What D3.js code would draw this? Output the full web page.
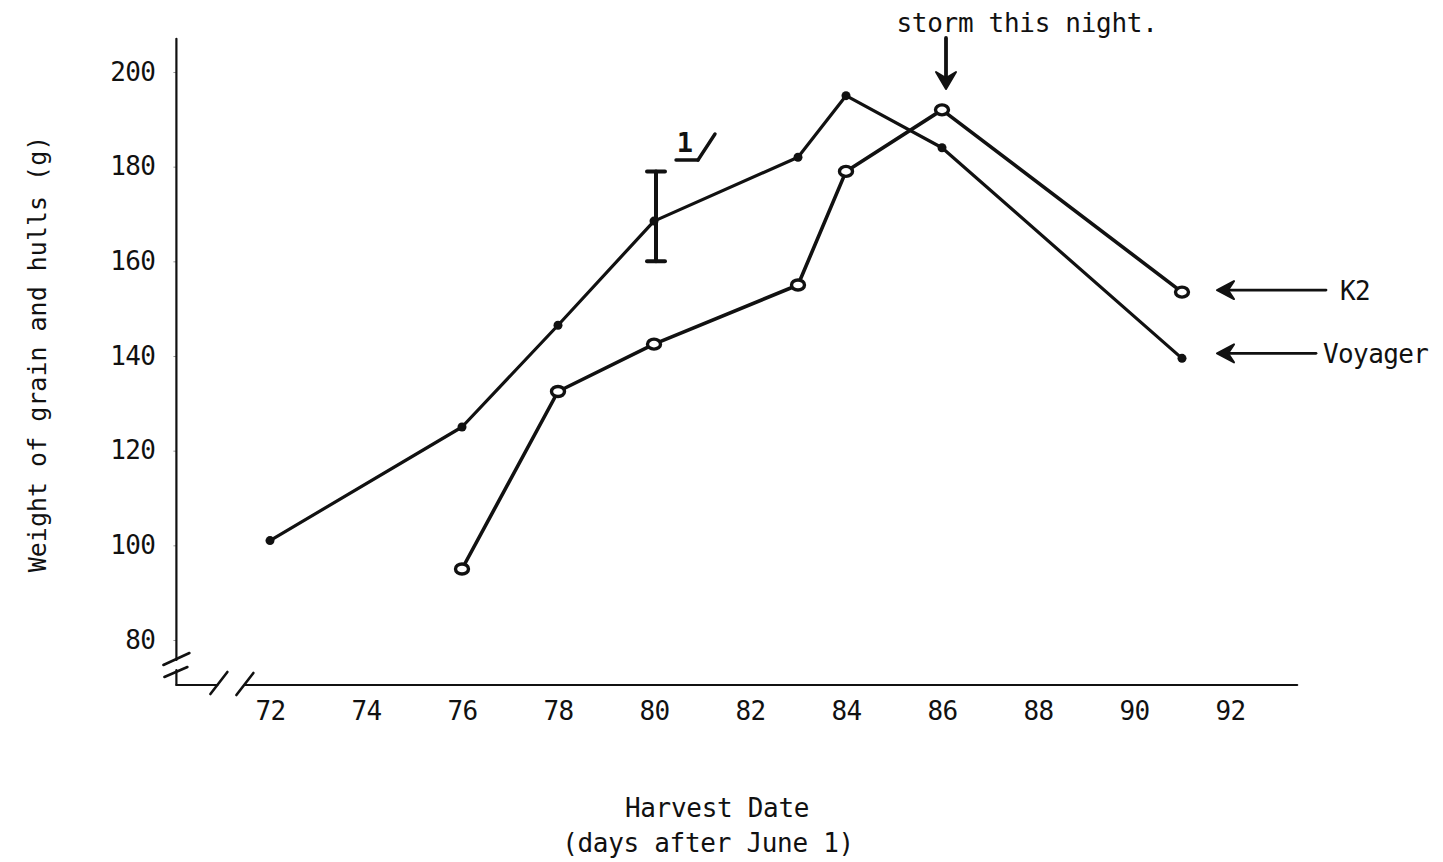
<!DOCTYPE html>
<html>
<head>
<meta charset="utf-8">
<script src="https://cdn.jsdelivr.net/npm/d3@7"></script>
<style>
  html, body { margin: 0; padding: 0; background: #fff; }
  svg { display: block; }
  text { font-family: "DejaVu Sans Mono", "Liberation Mono", monospace; fill: #111; }
</style>
</head>
<body>
<svg id="chart" width="1443" height="862"></svg>
<script>
// Harvest weight of grain and hulls for two barley cultivars
const xTicks = [72, 74, 76, 78, 80, 82, 84, 86, 88, 90, 92];
const yTicks = [80, 100, 120, 140, 160, 180, 200];

const voyagerDays   = [72, 76, 78, 80, 83, 84, 86, 91];
const voyagerWeight = [101, 125, 146.5, 168.5, 182, 195, 184, 139.5];

const k2Days   = [76, 78, 80, 83, 84, 86, 91];
const k2Weight = [95, 132.5, 142.5, 155, 179, 192, 153.5];

// LSD bar (footnote 1/) drawn at day 80
const lsdDay = 80;
const lsdRange = [160, 179];

const seriesNames = ["K2", "Voyager"];

const svg = d3.select("#chart");
const ink = "#111";

const x = d3.scaleLinear().domain([72, 92]).range([270, 1230]);
const y = d3.scaleLinear().domain([80, 200]).range([640, 72]);

const axisY = y(80) + 45;   // baseline of the broken x axis
const axisX = x(70.05);     // position of the y axis

// ---- axes ----
const gx = svg.append("g").attr("transform", `translate(0,${axisY})`)
  .call(d3.axisBottom(x).tickValues(xTicks).tickSize(0).tickPadding(17));
gx.select(".domain").remove();
gx.selectAll("text").attr("font-size", 26).attr("letter-spacing", -0.6);

const gy = svg.append("g").attr("transform", `translate(${axisX},0)`)
  .call(d3.axisLeft(y).tickValues(yTicks).tickSize(3).tickPadding(18));
gy.select(".domain").remove();
gy.selectAll("line").attr("stroke", "#999").attr("stroke-width", 1);
gy.selectAll("text").attr("font-size", 26).attr("letter-spacing", -0.6);

function seg(x1, y1, x2, y2, w) {
  return svg.append("line").attr("x1", x1).attr("y1", y1).attr("x2", x2).attr("y2", y2)
    .attr("stroke", ink).attr("stroke-width", w || 2.2).attr("stroke-linecap", "round");
}

// y axis line with break near the bottom
seg(axisX, y(207), axisX, y(80) + 20);
seg(axisX, y(80) + 30, axisX, axisY);
seg(axisX - 13, y(80) + 25, axisX + 13, y(80) + 13, 2.6);
seg(axisX - 12, y(80) + 37, axisX + 11, y(80) + 27, 2.6);

// x axis line with double slash break
seg(axisX, axisY, axisX + 41, axisY);
seg(axisX + 69, axisY, x(93.4), axisY);
seg(axisX + 34, axisY + 9, axisX + 51, axisY - 13, 2.6);
seg(axisX + 60, axisY + 10, axisX + 77, axisY - 12, 2.6);

// ---- series lines ----
const line = d3.line().x(d => x(d[0])).y(d => y(d[1]));
const voyager = voyagerDays.map((d, i) => [d, voyagerWeight[i]]);
const k2 = k2Days.map((d, i) => [d, k2Weight[i]]);

svg.append("path").datum(voyager).attr("d", line)
  .attr("fill", "none").attr("stroke", ink).attr("stroke-width", 3.2).attr("stroke-linejoin", "round");
svg.append("path").datum(k2).attr("d", line)
  .attr("fill", "none").attr("stroke", ink).attr("stroke-width", 3.6).attr("stroke-linejoin", "round");

svg.selectAll("circle.voy").data(voyager).join("circle").attr("class", "voy")
  .attr("cx", d => x(d[0])).attr("cy", d => y(d[1])).attr("r", 4.5).attr("fill", ink);

svg.selectAll("ellipse.k2").data(k2).join("ellipse").attr("class", "k2")
  .attr("cx", d => x(d[0])).attr("cy", d => y(d[1])).attr("rx", 6.5).attr("ry", 5)
  .attr("fill", "#fff").attr("stroke", ink).attr("stroke-width", 3.4);

// ---- LSD bar ----
const lx = x(lsdDay) + 2;
seg(lx, y(lsdRange[0]), lx, y(lsdRange[1]), 4);
seg(lx - 9, y(lsdRange[0]), lx + 9, y(lsdRange[0]), 4);
seg(lx - 9, y(lsdRange[1]), lx + 9, y(lsdRange[1]), 4);

// footnote marker 1/
svg.append("text").attr("x", 685).attr("y", 152).attr("font-size", 27)
  .attr("font-weight", "bold").attr("text-anchor", "middle").text("1");
seg(676, 160, 698, 160, 3.4);
seg(698, 160, 715, 134, 3.4);

// ---- arrows ----
function arrowHead(tx, ty, dir) {
  // dir: "down" or "left"; filled chevron head
  let p;
  if (dir === "down") {
    p = `M${tx},${ty} L${tx - 10},${ty - 17} L${tx},${ty - 11} L${tx + 10},${ty - 17} Z`;
  } else {
    p = `M${tx},${ty} L${tx + 17},${ty - 9} L${tx + 11},${ty} L${tx + 17},${ty + 9} Z`;
  }
  svg.append("path").attr("d", p).attr("fill", ink).attr("stroke", ink)
    .attr("stroke-width", 2).attr("stroke-linejoin", "round");
}

// storm annotation above the day-86 K2 point
const sx = x(86) + 4;
seg(sx, 38, sx, 84, 3.8);
arrowHead(sx, 89, "down");
svg.append("text").attr("x", 1027).attr("y", 32).attr("font-size", 26)
  .attr("letter-spacing", -0.3).attr("text-anchor", "middle").text("storm this night.");

// series labels with arrows pointing at the last points
const labelY = [y(k2Weight[k2Weight.length - 1]) - 2, y(voyagerWeight[voyagerWeight.length - 1]) - 5];
const lineEnd = [1326, 1316];
const textX = [1340, 1323];
seriesNames.forEach((name, i) => {
  seg(1224, labelY[i], lineEnd[i], labelY[i], 2.8);
  arrowHead(1217, labelY[i], "left");
  svg.append("text").attr("x", textX[i]).attr("y", labelY[i] + 10).attr("font-size", 26)
    .attr("letter-spacing", -0.6).text(name);
});

// ---- axis titles ----
svg.append("text").attr("transform", `translate(46,354) rotate(-90)`)
  .attr("font-size", 25).attr("text-anchor", "middle").text("Weight of grain and hulls (g)");
svg.append("text").attr("x", 717).attr("y", 817).attr("font-size", 26)
  .attr("letter-spacing", -0.3).attr("text-anchor", "middle").text("Harvest Date");
svg.append("text").attr("x", 708).attr("y", 852).attr("font-size", 26)
  .attr("letter-spacing", -0.3).attr("text-anchor", "middle").text("(days after June 1)");
</script>
</body>
</html>
